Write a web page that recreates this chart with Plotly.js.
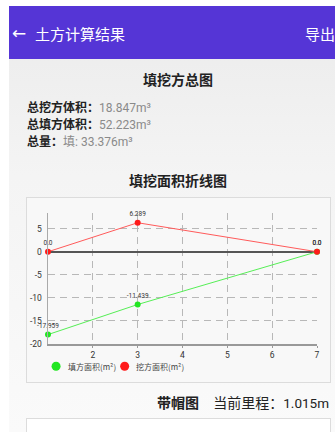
<!DOCTYPE html>
<html>
<head>
<meta charset="utf-8">
<script src="https://cdn.plot.ly/plotly-3.0.1.min.js"></script>
<style>
  html, body { margin:0; padding:0; width:335px; height:432px; overflow:hidden; background:#fff; }
  body { position:relative; font-family: Roboto, "Noto Sans CJK SC", sans-serif; }
  #page { position:absolute; left:9px; top:6px; width:326px; height:426px;
          background: linear-gradient(#ebebeb, #f4f4f4 40%, #fafafa); }
  #bar { position:absolute; left:9px; top:6px; width:326px; height:53px; background:#5535d6; color:#fff; }
  .abs { position:absolute; white-space:nowrap; }
  .h { font-family:"Noto Sans CJK SC", sans-serif; }
  .b { font-weight:bold; color:#222; }
  .v { color:#8a8a8a; font-family: Roboto, "Noto Sans CJK SC", sans-serif; }
  #chartbox { position:absolute; left:26px; top:197px; width:303px; height:184px;
              background:#f8f8f8; border:1px solid #dcdcdc; }
  #chart { position:absolute; left:0; top:0; width:303px; height:184px; }
  #box2 { position:absolute; left:26px; top:418px; width:303px; height:40px;
          background:#fff; border:1px solid #dcdcdc; }
</style>
</head>
<body>
<div id="page"></div>
<div id="bar"></div>
<div class="abs" style="left:12px; top:23px; font-size:17px; line-height:20px; color:#fff; font-family:'DejaVu Sans';">←</div>
<div class="abs h" style="left:35px; top:24px; font-size:15px; line-height:20px; color:#fff;">土方计算结果</div>
<div class="abs h" style="left:305px; top:24px; font-size:15px; line-height:20px; color:#fff;">导出</div>

<div class="abs h b" style="left:143px; top:70px; font-size:14px; line-height:18px;">填挖方总图</div>
<div class="abs" style="left:27px; top:100px; font-size:12px; line-height:13px;"><span class="h b">总挖方体积：</span><span class="v">18.847m³</span></div>
<div class="abs" style="left:27px; top:116.5px; font-size:12px; line-height:13px;"><span class="h b">总填方体积：</span><span class="v">52.223m³</span></div>
<div class="abs" style="left:27px; top:133.5px; font-size:12px; line-height:13px;"><span class="h b">总量：</span><span class="v">填: 33.376m³</span></div>
<div class="abs h b" style="left:129px; top:171px; font-size:14px; line-height:18px;">填挖面积折线图</div>

<div id="chartbox"><div id="chart"></div></div>

<div class="abs h b" style="left:157px; top:393px; font-size:14px; line-height:18px;">带帽图</div>
<div class="abs" style="right:6px; top:393px; font-size:14px; line-height:18px; color:#222;"><span class="h">当前里程：</span><span style="font-size:13.5px;">1.015m</span></div>
<div id="box2"></div>

<script>
// ---- data ----
const stations = [1, 3, 7];
const fillArea = [-17.959, -11.439, 0];
const cutArea = [0, 6.289, 0];
const fillLabels = ['-17.959', '-11.439', '0.0'];
const cutLabels = ['0.0', '6.289', '0.0'];
const seriesNames = ['填方面积(m²)', '挖方面积(m²)'];
const seriesColors = ['#22e622', '#ff1a1a'];
const lineColors = ['#55ee55', '#ff5a5a'];
const xTicks = [2, 3, 4, 5, 6, 7];
const yTicks = [5, 0, -5, -10, -15, -20];

const traces = [
  { x: stations, y: fillArea, text: fillLabels, name: seriesNames[0], mode: 'lines+markers+text',
    textposition: 'top center', textfont: {size: 6.5, color: '#333'},
    line: {color: lineColors[0], width: 1}, marker: {color: seriesColors[0], size: 6, symbol: 'circle'},
    cliponaxis: false, showlegend: false, hoverinfo: 'skip' },
  { x: stations, y: cutArea, text: cutLabels, name: seriesNames[1], mode: 'lines+markers+text',
    textposition: 'top center', textfont: {size: 6.5, color: '#333'},
    line: {color: lineColors[1], width: 1}, marker: {color: seriesColors[1], size: 6, symbol: 'circle'},
    cliponaxis: false, showlegend: false, hoverinfo: 'skip' }
];

// custom legend (circles + labels below plot)
const legX = [0.03, 0.285];
const legY = -0.17;
const shapes = [];
const annotations = [];
seriesNames.forEach((n, i) => {
  shapes.push({ type: 'circle', xref: 'paper', yref: 'paper', xsizemode: 'pixel', ysizemode: 'pixel',
    xanchor: legX[i], yanchor: legY, x0: -4.5, x1: 4.5, y0: -4.5, y1: 4.5,
    fillcolor: seriesColors[i], line: {width: 0} });
  annotations.push({ xref: 'paper', yref: 'paper', x: legX[i] + 0.036, y: legY, xanchor: 'left', yanchor: 'middle',
    text: n, showarrow: false, font: {size: 8, color: '#444', family: '"Noto Sans CJK SC", sans-serif'} });
});

const layout = {
  width: 303, height: 184,
  margin: {l: 21, r: 13, t: 15, b: 38},
  paper_bgcolor: 'rgba(0,0,0,0)', plot_bgcolor: 'rgba(0,0,0,0)',
  font: {family: 'Roboto, "Noto Sans CJK SC", sans-serif', size: 9, color: '#333'},
  showlegend: false,
  xaxis: { range: [1, 7], tickvals: xTicks, ticktext: xTicks.map(String),
    showgrid: true, gridcolor: '#b8b8b8', griddash: '7px,5px', gridwidth: 1,
    showline: true, linecolor: '#999', linewidth: 1.5, zeroline: false,
    ticks: 'outside', ticklen: 2, tickcolor: '#999', tickfont: {size: 8.5, color: '#333'}, fixedrange: true },
  yaxis: { range: [-20, 8.4], tickvals: yTicks, ticktext: yTicks.map(String),
    showgrid: true, gridcolor: '#b8b8b8', griddash: '7px,5px', gridwidth: 1,
    showline: true, linecolor: '#aaa', linewidth: 1.5,
    zeroline: true, zerolinecolor: '#555', zerolinewidth: 2,
    ticks: '', ticklabelstandoff: 3, tickfont: {size: 8.5, color: '#333'}, fixedrange: true },
  shapes: shapes,
  annotations: annotations
};

Plotly.newPlot('chart', traces, layout, {displayModeBar: false, staticPlot: true});
</script>
</body>
</html>
